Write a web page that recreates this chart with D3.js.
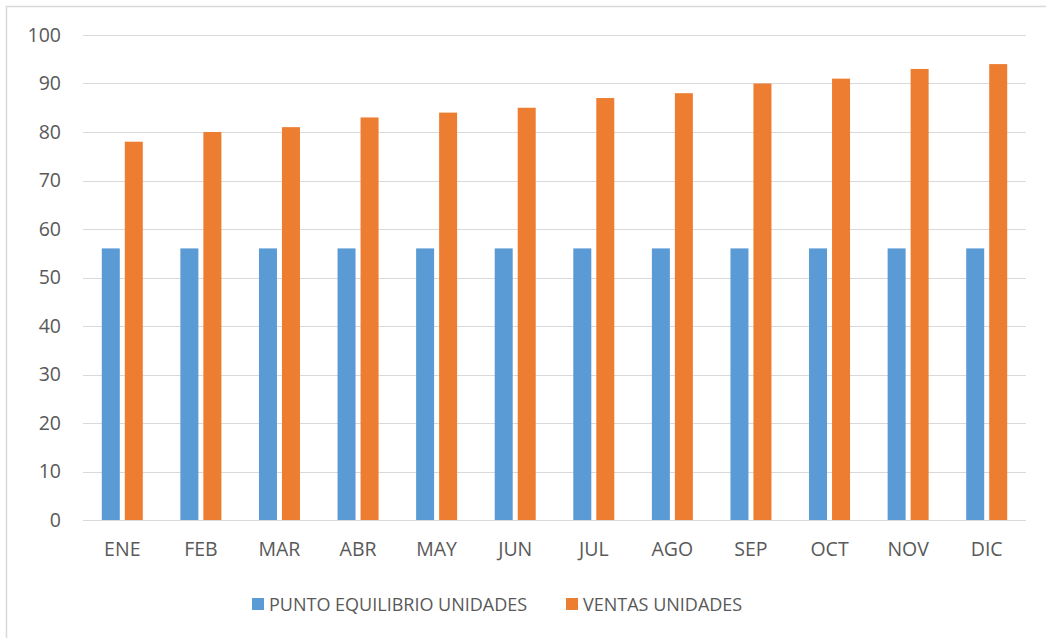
<!DOCTYPE html>
<html>
<head>
<meta charset="utf-8">
<script src="https://d3js.org/d3.v7.min.js"></script>
<style>
body { margin: 0; background: #fff; }
svg { display: block; font-family: 'Open Sans', 'Liberation Sans', sans-serif; }
.tick text { fill: #595959; font-size: 19.5px; font-family: 'Open Sans', 'Liberation Sans', sans-serif; }
.grid line { stroke: #d9d9d9; }
</style>
</head>
<body>
<div id="chart"></div>
<script>
var months = ["ENE", "FEB", "MAR", "ABR", "MAY", "JUN", "JUL", "AGO", "SEP", "OCT", "NOV", "DIC"];
var puntoEquilibrio = [56, 56, 56, 56, 56, 56, 56, 56, 56, 56, 56, 56];
var ventas = [78, 80, 81, 83, 84, 85, 87, 88, 90, 91, 93, 94];
var seriesNames = ["PUNTO EQUILIBRIO UNIDADES", "VENTAS UNIDADES"];
var colors = ["#5b9bd5", "#ed7d31"];
var yTicks = [0, 10, 20, 30, 40, 50, 60, 70, 80, 90, 100];

var width = 1046, height = 638;
var plotLeft = 83, plotRight = 1026, plotTop = 35, plotBottom = 520;

var svg = d3.select("#chart").append("svg")
  .attr("width", width).attr("height", height);

// chart frame (top and left edges visible)
svg.append("path")
  .attr("d", "M6.5," + height + "V6.5H" + width)
  .style("fill", "none").style("stroke", "#d9d9d9").style("stroke-width", 1.5);

var x = d3.scaleBand().domain(months).range([plotLeft, plotRight]);
var y = d3.scaleLinear().domain([0, 100]).range([plotBottom, plotTop]);

// gridlines
svg.append("g").attr("class", "grid")
  .selectAll("line").data(yTicks).join("line")
  .attr("x1", plotLeft).attr("x2", plotRight)
  .attr("y1", d => Math.round(y(d)) + 0.5).attr("y2", d => Math.round(y(d)) + 0.5);

var yAxis = svg.append("g").attr("transform", "translate(" + plotLeft + ",0)")
  .call(d3.axisLeft(y).tickValues(yTicks).tickSize(0).tickPadding(22));
yAxis.select(".domain").remove();

var barW = 18, gap = 5;
var data = months.map((m, i) => ({ m: m, vals: [puntoEquilibrio[i], ventas[i]] }));

data.forEach(function (d) {
  var cx = x(d.m) + x.bandwidth() / 2;
  d.vals.forEach(function (v, j) {
    var x0 = j === 0 ? cx - gap / 2 - barW : cx + gap / 2;
    svg.append("rect")
      .attr("x", x0).attr("width", barW)
      .attr("y", y(v)).attr("height", y(0) - y(v))
      .style("fill", colors[j]);
  });
});

// baseline
svg.append("line")
  .attr("x1", plotLeft).attr("x2", plotRight)
  .attr("y1", Math.round(y(0)) + 0.5).attr("y2", Math.round(y(0)) + 0.5)
  .style("stroke", "#d9d9d9");

var xAxis = svg.append("g").attr("transform", "translate(0," + plotBottom + ")")
  .call(d3.axisBottom(x).tickSize(0).tickPadding(22));
xAxis.select(".domain").remove();

// legend
var legendX = [252, 566];
seriesNames.forEach(function (name, i) {
  var g = svg.append("g").attr("transform", "translate(" + legendX[i] + ",598)");
  g.append("rect").attr("width", 12).attr("height", 12).style("fill", colors[i]);
  g.append("text").attr("x", 17).attr("y", 13)
    .style("font-size", "18px").style("fill", "#595959").text(name);
});
</script>
</body>
</html>
